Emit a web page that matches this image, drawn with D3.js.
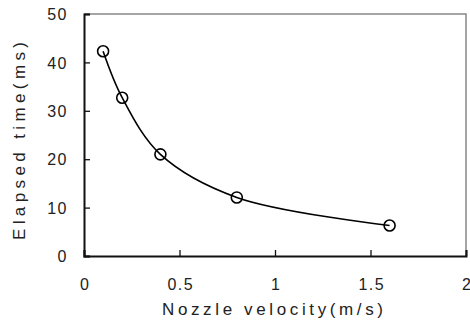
<!DOCTYPE html>
<html><head><meta charset="utf-8">
<script src="https://cdn.jsdelivr.net/npm/d3@7"></script>
<style>body{margin:0;background:#fff}svg{display:block}text{font-family:"Liberation Sans",Arial,sans-serif;fill:#222}</style>
</head><body><svg id="c" width="470" height="327"></svg>
<script>
const velocity = [0.1, 0.2, 0.4, 0.8, 1.6];
const elapsed = [42.3, 32.7, 21.0, 12.1, 6.3];
const xTicks = [0, 0.5, 1, 1.5, 2];
const yTicks = [0, 10, 20, 30, 40, 50];
const xTitle = "Nozzle velocity(m/s)";
const yTitle = "Elapsed time(ms)";

const svg = d3.select("#c");
const L = 84, R = 466, T = 14, B = 256;
const x = d3.scaleLinear().domain([0, 2]).range([L, R]);
const y = d3.scaleLinear().domain([0, 50]).range([B, T]);

svg.append("path").attr("d", `M${L},${T}H${R}V${B}`).attr("fill","none").attr("stroke","#888").attr("stroke-width",1.5);

const xAxis = svg.append("g").attr("transform", `translate(0,${B})`)
  .call(d3.axisBottom(x).tickValues(xTicks).tickSize(-6).tickFormat(d3.format("")));
const yAxis = svg.append("g").attr("transform", `translate(${L},0)`)
  .call(d3.axisLeft(y).tickValues(yTicks).tickSize(-6));
[xAxis, yAxis].forEach(g => {
  g.select(".domain").attr("stroke", "#111").attr("stroke-width", 2);
  g.selectAll(".tick line").attr("stroke", "#111").attr("stroke-width", 1.3);
  g.selectAll(".tick text").style("font-size", "16px").attr("fill", "#222")
    .style("font-family", "'Liberation Sans',Arial,sans-serif").style("letter-spacing", "1.5px");
});
xAxis.selectAll(".tick text").attr("y", 34).attr("dy", null).attr("dx", "0.75px");
yAxis.selectAll(".tick text").attr("x", -16).attr("dy", "0.36em");

const pts = velocity.map((v, i) => [x(v), y(elapsed[i])]);
svg.append("path").attr("d", d3.line().curve(d3.curveCatmullRom.alpha(0.5))(pts))
  .attr("fill", "none").attr("stroke", "#000").attr("stroke-width", 1.6);
svg.selectAll("circle.m").data(velocity).join("circle").attr("class","m")
  .attr("cx", (d) => x(d)).attr("cy", (d, i) => y(elapsed[i])).attr("r", 5.5)
  .attr("fill", "none").attr("stroke", "#000").attr("stroke-width", 1.6);

svg.append("text").attr("x", 162).attr("y", 315)
  .attr("textLength", 221).attr("lengthAdjust", "spacing")
  .style("font-size", "17px").text(xTitle);
svg.append("text").attr("transform", `translate(25,240) rotate(-90)`)
  .attr("textLength", 198).attr("lengthAdjust", "spacing")
  .style("font-size", "17px").text(yTitle);
</script></body></html>
